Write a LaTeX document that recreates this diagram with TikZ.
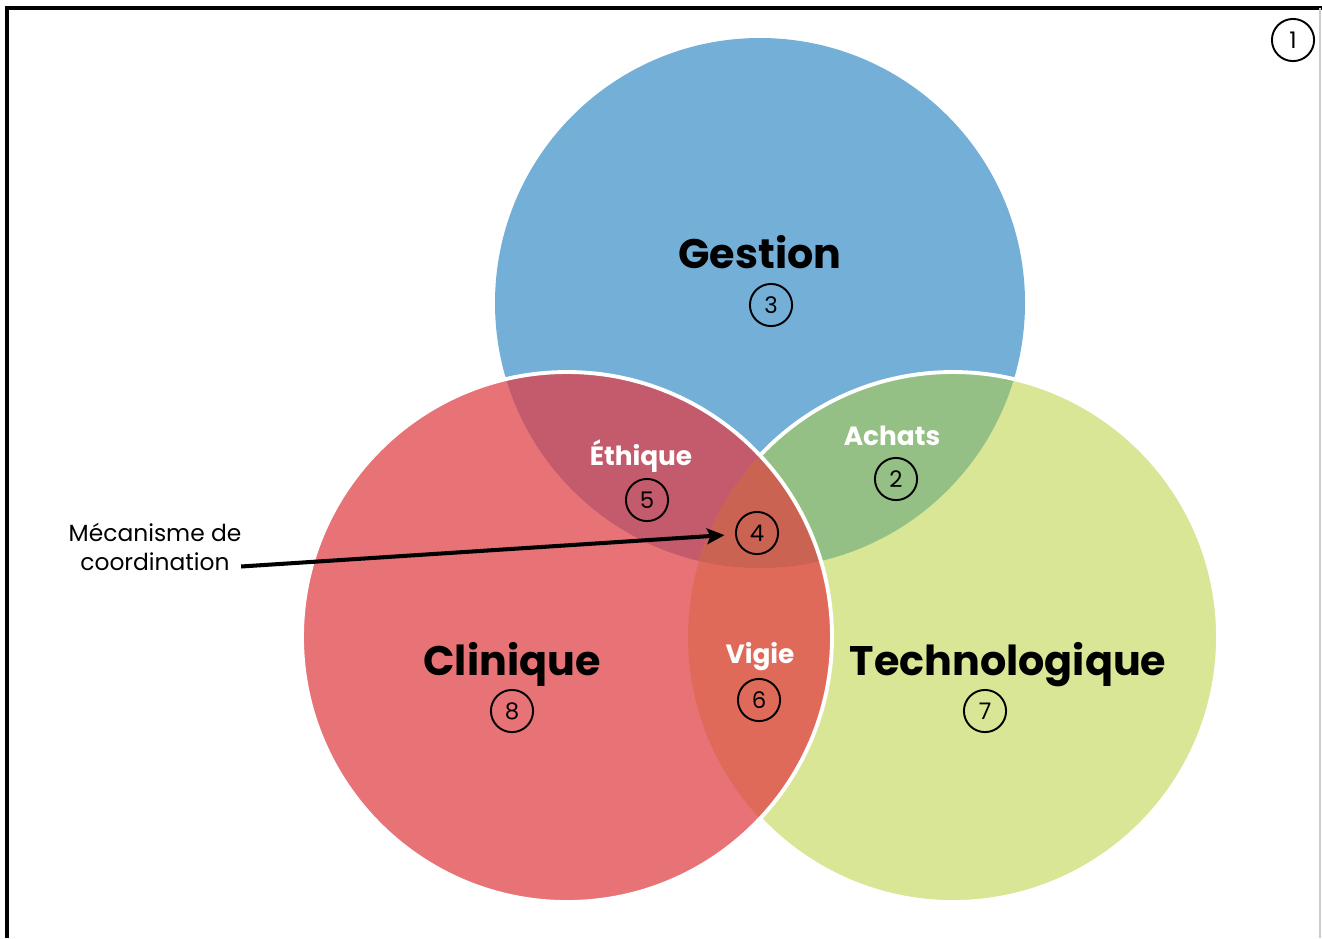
\documentclass[tikz,border=0pt]{standalone}
\usepackage{fontspec}
\setmainfont{Poppins}
\usetikzlibrary{arrows.meta}
\definecolor{gestion}{HTML}{74AFD7}
\definecolor{clinique}{HTML}{E87377}
\definecolor{techno}{HTML}{D8E696}
\definecolor{ethique}{HTML}{C35B6C}
\definecolor{achats}{HTML}{95C085}
\definecolor{vigie}{HTML}{E06A5A}
\definecolor{coord}{HTML}{CB6352}
\begin{document}
\begin{tikzpicture}[x=0.02cm, y=-0.02cm,
    title/.style={font=\bfseries\fontsize{23.5}{26}\selectfont, anchor=base},
    inter/.style={text=white, font=\bfseries\fontsize{15}{17}\selectfont, anchor=base},
    num/.style={draw, circle, line width=1.1pt, minimum size=24pt, inner sep=0pt,
        font=\fontsize{13}{14}\selectfont},
    label/.style={font=\fontsize{13.3}{15}\selectfont, anchor=base},
    rim/.style={draw=white, line width=2.2pt}]
    \useasboundingbox (0,0) rectangle (1322,938);
    \def\rad{265}
    \coordinate (cG) at (760,303);
    \coordinate (cC) at (567,637);
    \coordinate (cT) at (953,637);
    % frame
    \draw[line width=2.3pt] (7,938) -- (7,8) -- (1322,8);
    \draw[black!20, line width=0.6pt] (1320,8) -- (1320,938);
    % circles
    \fill[gestion] (cG) circle[radius=\rad];
    \fill[techno] (cT) circle[radius=\rad];
    \begin{scope}
        \clip (cG) circle[radius=\rad];
        \fill[achats] (cT) circle[radius=\rad];
    \end{scope}
    \draw[rim] (cT) circle[radius=\rad];
    \fill[clinique] (cC) circle[radius=\rad];
    \begin{scope}
        \clip (cC) circle[radius=\rad];
        \fill[ethique] (cG) circle[radius=\rad];
        \fill[vigie] (cT) circle[radius=\rad];
        \clip (cG) circle[radius=\rad];
        \fill[coord] (cT) circle[radius=\rad];
    \end{scope}
    \draw[rim] (cC) circle[radius=\rad];
    % labels
    \node[title] (gestion) at (760,268) {Gestion};
    \node[title] (clinique) at (512,675) {Clinique};
    \node[title] (techno) at (1008,675) {Technologique};
    \node[inter] (ethique) at (641,465) {Éthique};
    \node[inter] (achats) at (892,445) {Achats};
    \node[inter] (vigie) at (760,663) {Vigie};
    \node[num] (n1) at (1293,40) {1};
    \node[num] (n2) at (896,479) {2};
    \node[num] (n3) at (771,305) {3};
    \node[num] (n4) at (757,533) {4};
    \node[num] (n5) at (647,500) {5};
    \node[num] (n6) at (759,700) {6};
    \node[num] (n7) at (985,711) {7};
    \node[num] (n8) at (512,711) {8};
    \node[label] (meca1) at (155,541) {Mécanisme de};
    \node[label] (meca2) at (155,570) {coordination};
    \draw[line width=2.3pt, -{Stealth[length=10pt, width=9pt, inset=2pt]}, shorten >=6pt]
        ([xshift=3pt, yshift=-3pt]meca2.east) -- (n4);
\end{tikzpicture}
\end{document}
